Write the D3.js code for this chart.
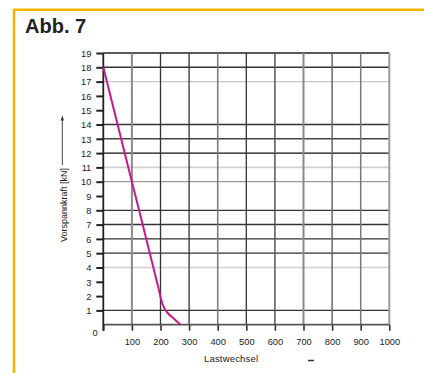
<!DOCTYPE html>
<html>
<head>
<meta charset="utf-8">
<script src="https://cdn.jsdelivr.net/npm/d3@7/dist/d3.min.js"></script>
<style>
  html, body { margin: 0; padding: 0; background: #fff; }
  svg { display: block; font-family: "Liberation Sans", Arial, sans-serif; }
</style>
</head>
<body>
<svg id="chart" width="424" height="373"></svg>
<script>
// ---- data ----
const title = "Abb. 7";
const xLabel = "Lastwechsel";
const yLabel = "Vorspannkraft [kN]";
const xTicks = [100, 200, 300, 400, 500, 600, 700, 800, 900, 1000];
const yTicks = [1, 2, 3, 4, 5, 6, 7, 8, 9, 10, 11, 12, 13, 14, 15, 16, 17, 18, 19];
const gridY = [1, 4, 5, 6, 7, 8, 10, 11, 12, 13, 14, 17, 18, 19];
const lastwechsel = [0, 100, 190, 196, 201, 207, 215, 226, 245, 270];
const vorspannkraft = [18, 10, 2.8, 2.3, 1.85, 1.45, 1.1, 0.8, 0.45, 0];

// ---- styles (not data) ----
const vStyle = {100:["#8a8a8a",2],200:["#333",1.3],300:["#333",1.3],400:["#777",1.5],500:["#333",1.3],
  600:["#555",1.5],700:["#8a8a8a",2],800:["#666",1.5],900:["#777",1.5],1000:["#999",2]};
const hStyle = {1:["#333",1.3],4:["#cfcfcf",1.5],5:["#333",1.3],6:["#333",1.3],7:["#333",1.5],8:["#333",1.3],
  10:["#9a9a9a",1.3],11:["#d0d0d0",1.8],12:["#111",1.3],13:["#444",1.6],14:["#333",1.3],17:["#c8c8c8",1.3],
  18:["#333",1.4],19:["#222",1.4]};

const svg = d3.select("#chart");
const x = d3.scaleLinear().domain([0, 1000]).range([103.3, 389.3]);
const y = d3.scaleLinear().domain([0, 19]).range([324.7, 53]);

// orange frame
svg.append("path")
  .attr("d", "M14,380 L14,9.8 L430,9.8")
  .attr("fill", "none").attr("stroke", "#f8b500").attr("stroke-width", 2.5);

svg.append("text").attr("x", 25).attr("y", 33)
  .attr("font-size", 20).attr("font-weight", "bold").attr("fill", "#222")
  .text(title);

// horizontal grid
svg.append("g").selectAll("line").data(gridY).join("line")
  .attr("x1", x(0)).attr("x2", x(1000))
  .attr("y1", d => y(d)).attr("y2", d => y(d))
  .attr("stroke", d => hStyle[d][0]).attr("stroke-width", d => hStyle[d][1]);

// vertical grid
svg.append("g").selectAll("line").data(xTicks).join("line")
  .attr("x1", d => x(d)).attr("x2", d => x(d))
  .attr("y1", y(19)).attr("y2", y(0))
  .attr("stroke", d => vStyle[d][0]).attr("stroke-width", d => vStyle[d][1]);

// y axis
const yAxis = d3.axisLeft(y).tickValues(yTicks).tickSize(7).tickPadding(5).tickFormat(d3.format("d"));
const gy = svg.append("g").attr("transform", `translate(${x(0)},0)`).call(yAxis);
gy.select(".domain").remove();
gy.selectAll(".tick line").attr("stroke", "#222").attr("stroke-width", 2);
gy.selectAll(".tick text").attr("font-size", 9.3).attr("fill", "#222").attr("dy", "0.35em")
  .attr("font-family", "Liberation Sans, Arial, sans-serif");

// x axis
const xAxis = d3.axisBottom(x).tickValues([0].concat(xTicks)).tickSize(6).tickPadding(8)
  .tickFormat(d => d === 0 ? "" : d);
const gx = svg.append("g").attr("transform", `translate(0,${y(0)})`).call(xAxis);
gx.select(".domain").remove();
gx.selectAll(".tick line").attr("stroke", "#333").attr("stroke-width", 1.6);
gx.selectAll(".tick text").attr("font-size", 9.3).attr("fill", "#222")
  .attr("font-family", "Liberation Sans, Arial, sans-serif");

// axis lines
svg.append("line").attr("x1", x(0)).attr("x2", x(1000)).attr("y1", y(0)).attr("y2", y(0))
  .attr("stroke", "#555").attr("stroke-width", 1.8);
svg.append("line").attr("x1", x(0)).attr("x2", x(0)).attr("y1", y(19)).attr("y2", y(0) + 6)
  .attr("stroke", "#222").attr("stroke-width", 1.8);

// origin label
svg.append("text").attr("x", x(0) - 8.3).attr("y", y(0) + 11).attr("text-anchor", "middle")
  .attr("font-size", 9.3).attr("fill", "#222").text("0");

// axis titles
svg.append("text").attr("x", 204).attr("y", 362).attr("font-size", 9.5).attr("fill", "#222")
  .attr("textLength", 54).text(xLabel);
svg.append("line").attr("x1", 308).attr("x2", 314).attr("y1", 360.5).attr("y2", 360.5)
  .attr("stroke", "#333").attr("stroke-width", 1.5);

svg.append("text").attr("transform", "translate(66.5,242) rotate(-90)")
  .attr("font-size", 9).attr("fill", "#222").attr("textLength", 74).text(yLabel);
svg.append("line").attr("x1", 62.3).attr("x2", 62.3).attr("y1", 165).attr("y2", 119)
  .attr("stroke", "#333").attr("stroke-width", 0.9);
svg.append("path").attr("d", "M62.3,115.5 L60.6,120.5 L64,120.5 Z").attr("fill", "#333");

// curve
const pts = lastwechsel.map((v, i) => [v, vorspannkraft[i]]);
svg.append("path").datum(pts)
  .attr("d", d3.line().x(d => x(d[0])).y(d => y(d[1])).curve(d3.curveMonotoneX))
  .attr("fill", "none").attr("stroke", "#c8188a").attr("stroke-width", 2);
</script>
</body>
</html>
